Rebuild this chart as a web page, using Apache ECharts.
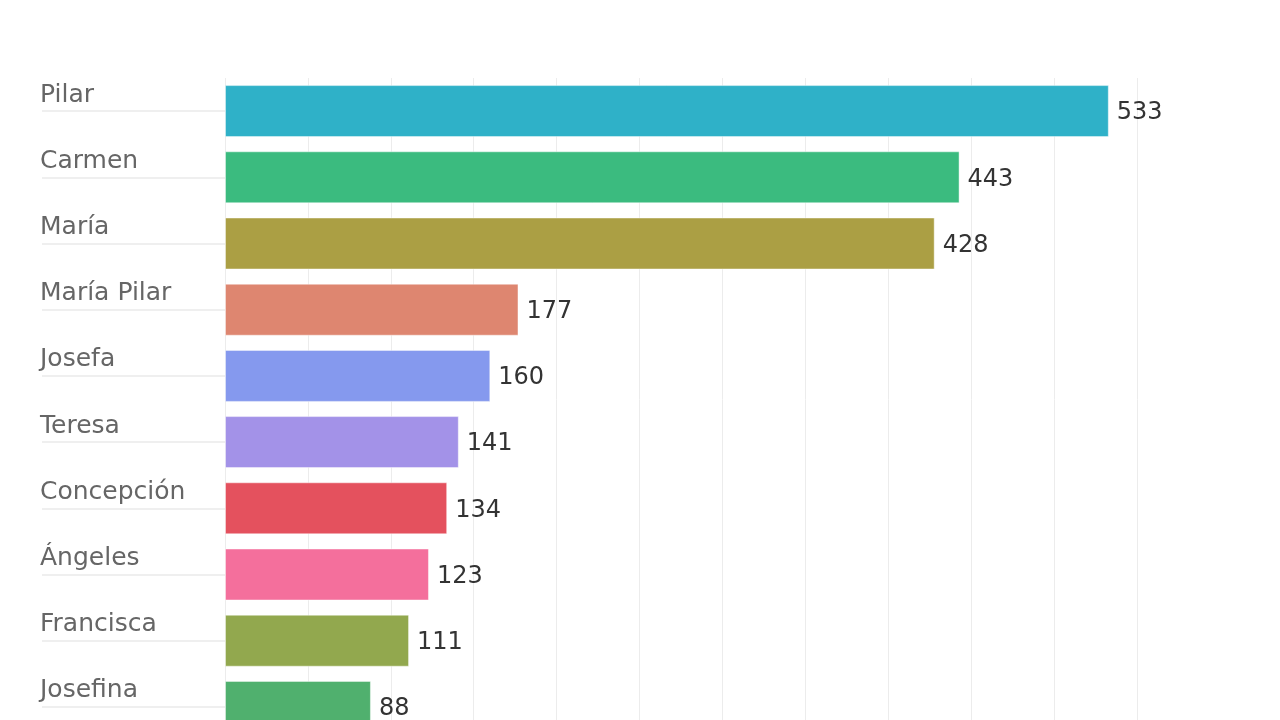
<!DOCTYPE html>
<html>
<head>
<meta charset="utf-8">
<script src="https://cdn.jsdelivr.net/npm/echarts@6/dist/echarts.min.js"></script>
<style>
  html, body { margin: 0; padding: 0; background: #fff; }
  #chart { width: 1280px; height: 720px; }
</style>
</head>
<body>
<div id="chart"></div>
<script>
var names = ['Pilar', 'Carmen', 'María', 'María Pilar', 'Josefa', 'Teresa', 'Concepción', 'Ángeles', 'Francisca', 'Josefina'];
var counts = [533, 443, 428, 177, 160, 141, 134, 123, 111, 88];
var barColors = ['#2fb1c8', '#3bbb7f', '#ab9f44', '#de8670', '#8599ee', '#a392e8', '#e4515e', '#f46f9c', '#92a84e', '#50b06e'];

var chart = echarts.init(document.getElementById('chart'));

var option = {
    backgroundColor: '#ffffff',
    animation: false,
    grid: {
        left: 225,
        right: 143,
        top: 78,
        height: 662,
        outerBoundsMode: 'none'
    },
    xAxis: {
        type: 'value',
        min: 0,
        max: 550,
        interval: 50,
        axisLabel: { show: false },
        axisLine: { show: false },
        axisTick: { show: false },
        splitLine: {
            lineStyle: { color: '#ececec', width: 1 }
        }
    },
    yAxis: {
        type: 'category',
        inverse: true,
        data: names,
        axisLine: { show: false },
        axisTick: {
            show: true,
            alignWithLabel: true,
            length: 183,
            lineStyle: { color: '#efefef', width: 2 }
        },
        axisLabel: {
            align: 'left',
            verticalAlign: 'bottom',
            margin: 185,
            padding: [0, 0, 3, 0],
            fontFamily: 'DejaVu Sans',
            fontSize: 25,
            lineHeight: 26,
            color: '#666666'
        }
    },
    series: [
        {
            type: 'bar',
            barWidth: 52,
            data: counts.map(function (v, i) {
                return { value: v, itemStyle: { color: barColors[i] } };
            }),
            itemStyle: {
                borderColor: 'rgba(255,255,255,0.45)',
                borderWidth: 1
            },
            label: {
                show: true,
                position: 'right',
                distance: 8,
                offset: [0, 2],
                fontFamily: 'DejaVu Sans',
                fontSize: 24,
                color: '#333333'
            }
        }
    ]
};
chart.setOption(option);
</script>
</body>
</html>
